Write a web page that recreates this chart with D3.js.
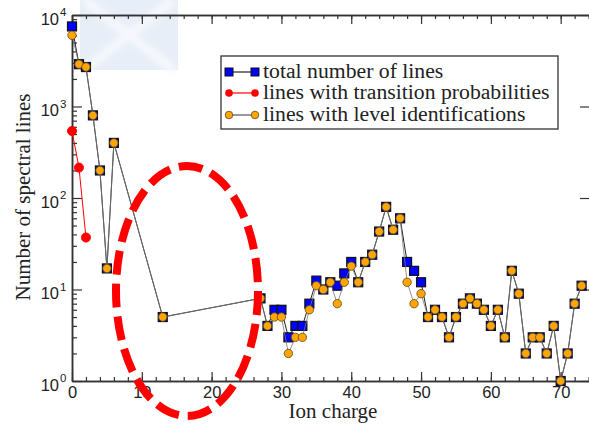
<!DOCTYPE html>
<html>
<head>
<meta charset="utf-8">
<script src="https://cdn.jsdelivr.net/npm/d3@7"></script>
<style>
  body { margin: 0; background: #fff; }
  svg { display: block; }
  .tick text { font-family: "Liberation Sans", Arial, sans-serif; }
</style>
</head>
<body>
<svg width="589" height="425"></svg>
<script>
// ion charges that have data (gaps 7-12 and 14-26 are simply missing)
const charges = [0,1,2,3,4,5,6,13,27,28,29,30,31,32,33,34,35,36,37,38,39,40,41,42,43,44,45,46,47,48,49,50,
  51,52,53,54,55,56,57,58,59,60,61,62,63,64,65,66,67,68,69,70,71,72,73];
const totalLines = [7500,2900,2700,800,200,17,400,5,8,4,6,6,3,4,4,7,12.5,10,12,11,15,20,12,20,24,43,80,45,60,20,16,12,
  5,6,5,3,5,7,8,7,6,4,6,3,16,9,2,3,3,2,4,1,2,7,11];
const levelLines = [6000,2900,2700,800,200,17,400,5,8,4,5,5,2,3,3,6,11,10,12,7,12,18,12,20,24,43,80,45,60,12,7,9,
  5,6,5,3,5,7,8,7,6,4,6,3,16,9,2,3,3,2,4,1,2,7,11];
// transition probabilities only for the first few ions
const tpCharges = [0,1,2];
const tpLines = [540,215,37];

const legendLabels = ['total number of lines', 'lines with transition probabilities', 'lines with level identifications'];
const xTicks = [0,10,20,30,40,50,60,70];
const yTicks = [1,10,100,1000,10000];

const svg = d3.select('svg');
const x = d3.scaleLinear().domain([0, 74.2]).range([72, 590]);
const y = d3.scaleLog().domain([1, 10000]).range([381, 15]);

// faint logo watermark top-left
const defs = svg.append('defs');
defs.append('filter').attr('id', 'soft').append('feGaussianBlur').attr('stdDeviation', 3);
const wm = svg.append('g');
wm.append('rect').attr('x', 80).attr('y', 0).attr('width', 98).attr('height', 70).attr('fill', '#e8eef7');
wm.append('path').attr('d', 'M84,0 L174,70 M174,0 L84,70').attr('stroke', '#f6f8fc')
  .attr('stroke-width', 9).attr('filter', 'url(#soft)');

// axes: ticks point inward
const minorX = d3.range(0, 75, 2);
const minorY = [];
[1,10,100,1000].forEach(d => { for (let k = 2; k <= 9; k++) minorY.push(d * k); });

function styleAxis(g) {
  g.select('.domain').attr('stroke', '#333').attr('stroke-width', 1.5);
  g.selectAll('.tick line').attr('stroke', '#333').attr('stroke-width', 1.2);
}

svg.append('g').attr('transform', 'translate(0,381)')
  .call(d3.axisBottom(x).tickValues(minorX).tickSize(-4).tickFormat('').tickSizeOuter(0)).call(styleAxis);
svg.append('g').attr('transform', 'translate(0,381)')
  .call(d3.axisBottom(x).tickValues(xTicks).tickSize(-9).tickPadding(5).tickSizeOuter(0)).call(styleAxis)
  .selectAll('text').attr('font-size', 16.5).attr('fill', '#222');
svg.append('g').attr('transform', 'translate(0,15)')
  .call(d3.axisTop(x).tickValues(minorX).tickSize(-4).tickFormat('').tickSizeOuter(0)).call(styleAxis);
svg.append('g').attr('transform', 'translate(0,15)')
  .call(d3.axisTop(x).tickValues(xTicks).tickSize(-9).tickFormat('').tickSizeOuter(0)).call(styleAxis);
svg.append('g').attr('transform', 'translate(72,0)')
  .call(d3.axisLeft(y).tickValues(minorY).tickSize(-5).tickFormat('').tickSizeOuter(0)).call(styleAxis);
svg.append('g').attr('transform', 'translate(72,0)')
  .call(d3.axisLeft(y).tickValues(yTicks).tickSize(-10).tickFormat('').tickSizeOuter(0)).call(styleAxis);
svg.append('g').attr('transform', 'translate(590,0)')
  .call(d3.axisRight(y).tickValues(yTicks).tickSize(-10).tickFormat('').tickSizeOuter(0)).call(styleAxis);

// y tick labels 10^n
svg.append('g').selectAll('text').data(yTicks).enter().append('text')
  .attr('font-family', '"Liberation Sans", Arial, sans-serif').attr('fill', '#222')
  .attr('x', 59).attr('y', d => y(d) + 9.5).attr('text-anchor', 'end')
  .attr('font-size', 16.5).text('10');
svg.append('g').selectAll('text').data(yTicks).enter().append('text')
  .attr('font-family', '"Liberation Sans", Arial, sans-serif').attr('fill', '#222')
  .attr('x', 60).attr('y', d => y(d) + 1).attr('font-size', 11.5)
  .text(d => Math.round(Math.log10(d)));

// axis titles
svg.append('text').attr('x', 333).attr('y', 418).attr('text-anchor', 'middle')
  .attr('font-family', '"Liberation Serif", "Times New Roman", serif').attr('font-size', 21).attr('fill', '#222')
  .text('Ion charge');
svg.append('text').attr('transform', 'translate(30,197) rotate(-90)').attr('text-anchor', 'middle')
  .attr('font-family', '"Liberation Serif", "Times New Roman", serif').attr('font-size', 21).attr('fill', '#222')
  .text('Number of spectral lines');

const line = d3.line().x(d => x(d[0])).y(d => y(d[1]));
const totalPts = charges.map((c, i) => [c, totalLines[i]]);
const levelPts = charges.map((c, i) => [c, levelLines[i]]);
const tpPts = tpCharges.map((c, i) => [c, tpLines[i]]);

// total number of lines
svg.append('path').datum(totalPts).attr('d', line).attr('fill', 'none').attr('stroke', '#222').attr('stroke-width', 1);
svg.append('g').selectAll('rect').data(totalPts).enter().append('rect')
  .attr('x', d => x(d[0]) - 4.5).attr('y', d => y(d[1]) - 4.5).attr('width', 9).attr('height', 9)
  .attr('fill', '#0000ff').attr('stroke', '#111').attr('stroke-width', 1.2);

// transition probabilities
svg.append('path').datum(tpPts).attr('d', line).attr('fill', 'none').attr('stroke', '#ff0000').attr('stroke-width', 1);
svg.append('g').selectAll('circle').data(tpPts).enter().append('circle')
  .attr('cx', d => x(d[0])).attr('cy', d => y(d[1])).attr('r', 4.5).attr('fill', '#ff0000').attr('stroke', '#ff0000');

// level identifications
svg.append('path').datum(levelPts).attr('d', line).attr('fill', 'none').attr('stroke', '#777').attr('stroke-width', 0.8);
svg.append('g').selectAll('circle').data(levelPts).enter().append('circle')
  .attr('cx', d => x(d[0])).attr('cy', d => y(d[1])).attr('r', 4.2)
  .attr('fill', '#ffa500').attr('stroke', '#5a4a20').attr('stroke-width', 0.8);

// legend
const lg = svg.append('g');
lg.append('rect').attr('x', 221).attr('y', 56).attr('width', 337).attr('height', 73)
  .attr('fill', '#fff').attr('stroke', '#333').attr('stroke-width', 1.3);
const rowsY = [72, 93, 115];
const lineCols = ['#222', '#ff0000', '#555'];
legendLabels.forEach((lab, i) => {
  const cy = rowsY[i];
  lg.append('line').attr('x1', 229).attr('x2', 255).attr('y1', cy).attr('y2', cy).attr('stroke', lineCols[i]).attr('stroke-width', 1.2);
  [229, 255].forEach(cx => {
    if (i === 0) {
      lg.append('rect').attr('x', cx - 4).attr('y', cy - 4).attr('width', 8).attr('height', 8)
        .attr('fill', '#0000ff').attr('stroke', '#111');
    } else if (i === 1) {
      lg.append('circle').attr('cx', cx).attr('cy', cy).attr('r', 3.8).attr('fill', '#ff0000');
    } else {
      lg.append('circle').attr('cx', cx).attr('cy', cy).attr('r', 3.8).attr('fill', '#ffa500').attr('stroke', '#5a4a20').attr('stroke-width', 0.8);
    }
  });
  // the source glyphs look a bit stretched horizontally
  lg.append('text').attr('transform', `translate(263,${cy + 6}) scale(1.06,1)`)
    .attr('font-family', '"Liberation Serif", "Times New Roman", serif').attr('font-size', 20.5).attr('fill', '#222')
    .text(lab);
});

// red dashed annotation ellipse
svg.append('ellipse').attr('cx', 187).attr('cy', 291).attr('rx', 71).attr('ry', 125)
  .attr('fill', 'none').attr('stroke', '#ff0000').attr('stroke-width', 8).attr('stroke-dasharray', '24,9');
</script>
</body>
</html>
